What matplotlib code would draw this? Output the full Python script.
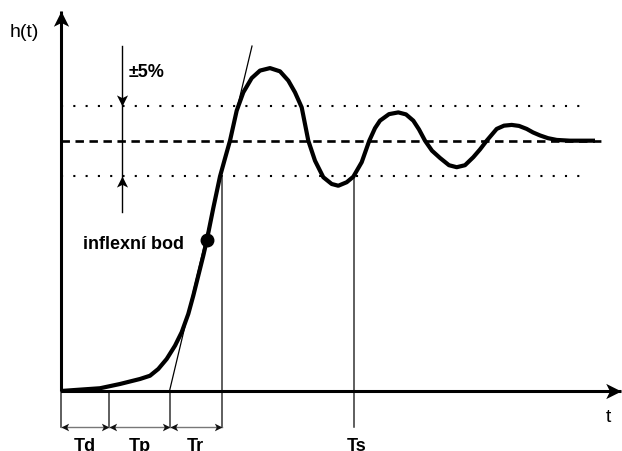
import numpy as np
import matplotlib.pyplot as plt
from matplotlib.path import Path

plt.rcParams['font.family'] = ['Liberation Sans', 'DejaVu Sans']

# step response (t in arbitrary units, h normalised to final value 1)
t_resp = [0, 14, 39, 59, 79, 89, 97.3, 105.7, 114, 120.7, 127.3, 132.3, 137.3, 142.3,
          145.7, 152.3, 159, 164, 169, 175.7, 182.3, 190.7, 199, 209, 219, 227.3, 234,
          240.7, 247.3, 254, 262.3, 270.7, 277.3, 285.7, 292.3, 300.7, 308.3, 314,
          319, 328, 337.3, 345, 352.3, 358, 364, 371, 379, 388, 395.7, 404, 412.3,
          419, 425.7, 435.7, 443, 450.7, 458, 465.7, 472, 479, 487, 495.7, 509, 534]
h_resp = [0, 0.004, 0.011, 0.028, 0.048, 0.061, 0.088, 0.128, 0.181, 0.235, 0.308,
          0.381, 0.461, 0.541, 0.600, 0.731, 0.857, 0.929, 1.0, 1.120, 1.193, 1.250,
          1.280, 1.290, 1.277, 1.240, 1.193, 1.133, 1.0, 0.920, 0.854, 0.827, 0.820,
          0.834, 0.856, 0.914, 1.0, 1.050, 1.080, 1.106, 1.113, 1.105, 1.080, 1.045,
          1.0, 0.960, 0.931, 0.902, 0.894, 0.902, 0.934, 0.965, 1.0, 1.047, 1.060,
          1.063, 1.059, 1.047, 1.033, 1.021, 1.010, 1.003, 1.0, 1.0]

h_final = 1.0
band_hi = 1.14
band_lo = 0.858
band_label = '±5%'

# tangent through the inflection point
tangent_t = [108.5, 191]
tangent_h = [0.0, 1.378]
inflex_t, inflex_h = 145.7, 0.605

# characteristic times
t_marks = [0, 48.3, 108.5, 160.7]
t_labels = ['Td', 'Tp', 'Tr']
t_settle = 293
settle_label = 'Ts'

fig = plt.figure(figsize=(6.22, 4.52), dpi=100)
ax = fig.add_axes([0, 0, 1, 1])
ax.axis('off')
ax.set_xlim(-61, 561)
ax.set_ylim(-0.2397, 1.566)


def head(angle):
    base = np.array([(0, 0), (-0.5, -1), (0, -0.75), (0.5, -1), (0, 0)])
    a = np.deg2rad(angle)
    rot = np.array([[np.cos(a), -np.sin(a)], [np.sin(a), np.cos(a)]])
    v = base @ rot.T
    return Path(v, [Path.MOVETO, Path.LINETO, Path.LINETO, Path.LINETO, Path.CLOSEPOLY])


UP, DOWN, LEFT, RIGHT = head(0), head(180), head(90), head(-90)

# band and final value
ax.plot([0, 526], [band_hi, band_hi], color='black', lw=1.5,
        linestyle=(0, (1, 4.9)), dash_capstyle='butt')
ax.plot([0, 526], [band_lo, band_lo], color='black', lw=1.5,
        linestyle=(0, (1, 4.9)), dash_capstyle='butt')
ax.plot([0, 540], [h_final, h_final], color='black', lw=1.9,
        linestyle=(0, (3.2, 2.1)), dash_capstyle='butt')

# thin verticals
ax.plot([t_marks[3], t_marks[3]], [band_lo, -0.144], color='#333333', lw=1.1)
ax.plot([t_settle, t_settle], [band_lo, -0.144], color='#333333', lw=1.1)
for tm in t_marks[:3]:
    ax.plot([tm, tm], [0, -0.144], color='#333333', lw=1.1)

# dimension arrows
for i, lab in enumerate(t_labels):
    a, b = t_marks[i], t_marks[i + 1]
    ax.plot([a, b], [-0.144, -0.144], color='#777777', lw=1.0)
    ax.plot([a], [-0.144], marker=LEFT, ms=11, color='#111111', mew=0)
    ax.plot([b], [-0.144], marker=RIGHT, ms=11, color='#111111', mew=0)
    ax.text((a + b) / 2, -0.184, lab, ha='center', va='top', fontsize=13,
            fontweight='bold')
ax.text(t_settle + 2.5, -0.184, settle_label, ha='center', va='top', fontsize=13,
        fontweight='bold')

# tangent
ax.plot(tangent_t, tangent_h, color='black', lw=0.9)

# response curve
ax.plot(t_resp, h_resp, color='black', lw=3.0, solid_joinstyle='round',
        solid_capstyle='butt')
ax.plot([inflex_t], [inflex_h], 'o', color='black', ms=9)
ax.text(21.7, 0.591, 'inflexní bod', ha='left', va='center', fontsize=13,
        fontweight='bold')

# +-5 % arrows
ax.plot([60.7, 60.7], [1.378, 0.715], color='black', lw=1.0)
ax.plot([60.7], [band_hi], marker=DOWN, ms=16, color='black', mew=0)
ax.plot([60.7], [band_lo], marker=UP, ms=16, color='black', mew=0)
ax.text(68, 1.278, band_label, ha='left', va='center', fontsize=13, fontweight='bold')

# axes with arrows
ax.plot([0, 0], [0, 1.518], color='black', lw=2.2, solid_capstyle='butt')
ax.plot([0, 560], [0, 0], color='black', lw=2.2, solid_capstyle='butt')
ax.plot([0], [1.518], marker=UP, ms=22, color='black', mew=0)
ax.plot([560], [0], marker=RIGHT, ms=22, color='black', mew=0)
ax.text(-51, 1.438, 'h(t)', ha='left', va='center', fontsize=14)
ax.text(547, -0.1, 't', ha='center', va='center', fontsize=14)

fig.savefig('out.png', dpi=100)
